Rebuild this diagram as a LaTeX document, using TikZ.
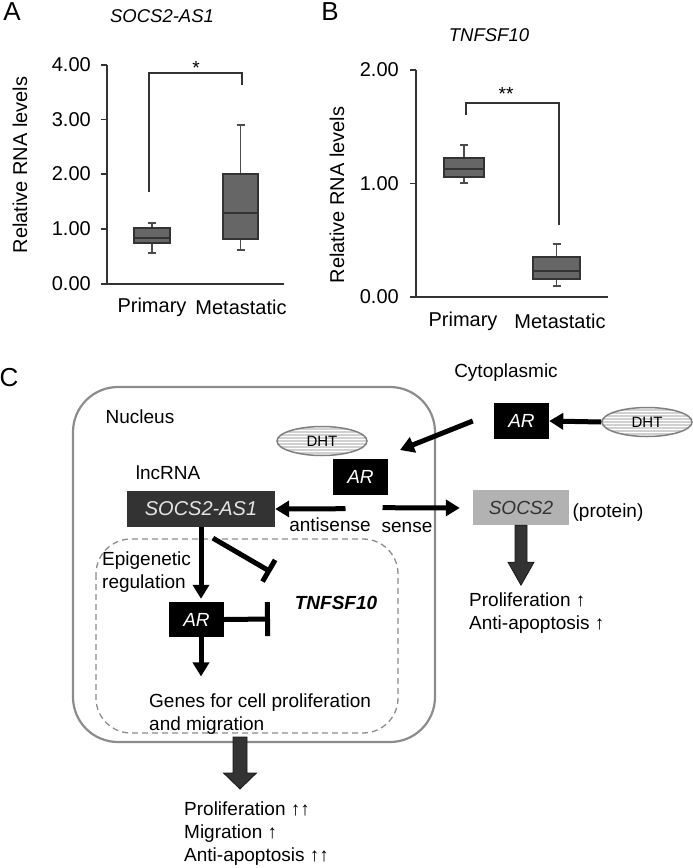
\documentclass[tikz,border=0pt]{standalone}
\usepackage{fontspec}
\setmainfont{Liberation Sans}
\usetikzlibrary{arrows.meta,shapes.geometric,positioning}

\begin{document}
\begin{tikzpicture}[x=1pt,y=-1pt,
  panel/.style={font=\fontsize{26}{30}\selectfont, inner sep=0pt},
  ttl/.style={font=\itshape\fontsize{18.5}{22}\selectfont, inner sep=0pt},
  lbl/.style={font=\fontsize{20}{22}\selectfont, inner sep=0pt},
  txt/.style={font=\fontsize{19}{23}\selectfont, inner sep=0pt, align=left},
  axis/.style={draw=black!80, line width=1.4pt},
  bx/.style={draw=black!80, fill=black!60, line width=1.8pt},
  wsk/.style={draw=black!70, line width=1.4pt},
  brk/.style={draw=black!80, line width=1.1pt},
  arbox/.style={fill=black, text=white, font=\itshape\fontsize{19}{22}\selectfont,
    minimum width=55pt, minimum height=36pt, inner sep=0pt},
  dht/.style={ellipse, draw=black!50, line width=1.5pt, minimum width=90pt, minimum height=29pt,
    inner sep=0pt, font=\fontsize{15}{18}\selectfont,
    path picture={\foreach \k in {-15,-12,...,15}
      \draw[black!18, line width=1.5pt] ([yshift=\k pt]path picture bounding box.west)
        -- ([yshift=\k pt]path picture bounding box.east);}},
  thick arrow/.style={line width=5pt, -{Triangle[length=14pt,width=16pt]}},
  inhibit/.style={line width=5pt, -{Bar[width=#1]}},
  bigarrow/.style={draw=black!90, fill=black!80, line width=0.8pt, line join=miter},
]
\useasboundingbox (0,0) rectangle (693,868);

% panel A
\node[panel] (lblA) at (12,12) {A};
\node[ttl] (ttlA) at (162,16) {SOCS2-AS1};
\draw[axis] (107,65) -- (107,284) -- (284,284);
\foreach \v/\y [count=\i] in {4.00/65,3.00/119.5,2.00/174,1.00/229,0.00/284} {
  \draw[axis] (101,\y) -- (107,\y);
  \node[lbl, anchor=east] (tA\i) at (91,\y) {\v};
}
\node[lbl, rotate=90] (ylA) at (20,165) {Relative RNA levels};
\foreach \xl/\xr/\hi/\qt/\md/\qb/\lo in {134/170/223/228/238/243/253, 223/258/125/174/213/239/250} {
  \pgfmathsetmacro\xm{(\xl+\xr)/2}
  \draw[wsk] (\xm-4,\hi) -- (\xm+4,\hi) (\xm,\hi) -- (\xm,\lo) (\xm-4,\lo) -- (\xm+4,\lo);
  \draw[bx] (\xl,\qt) rectangle (\xr,\qb);
  \draw[bx] (\xl,\md) -- (\xr,\md);
}
\draw[brk] (149,192) -- (149,73) -- (242,73) -- (242,85);
\node[lbl, font=\fontsize{19}{20}\selectfont] (sigA) at (196,68) {*};
\node[lbl] (primA) at (152,307) {Primary};
\node[lbl] (metA) at (241,307) {Metastatic};

% panel B
\node[panel] (lblB) at (330,12) {B};
\node[ttl] (ttlB) at (489,35) {TNFSF10};
\draw[axis] (416,70) -- (416,297) -- (608,297);
\foreach \v/\y [count=\i] in {2.00/70,1.00/183.5,0.00/297} {
  \draw[axis] (410,\y) -- (416,\y);
  \node[lbl, anchor=east] (tB\i) at (399,\y) {\v};
}
\node[lbl, rotate=90] (ylB) at (337,195) {Relative RNA levels};
\foreach \xl/\xr/\hi/\qt/\md/\qb/\lo in {444/484/145/158/169/177/183, 533/580/244/257/271/279/286} {
  \pgfmathsetmacro\xm{(\xl+\xr)/2}
  \draw[wsk] (\xm-4,\hi) -- (\xm+4,\hi) (\xm,\hi) -- (\xm,\lo) (\xm-4,\lo) -- (\xm+4,\lo);
  \draw[bx] (\xl,\qt) rectangle (\xr,\qb);
  \draw[bx] (\xl,\md) -- (\xr,\md);
}
\draw[brk] (466,115) -- (466,103) -- (559,103) -- (559,225);
\node[lbl, font=\fontsize{19}{20}\selectfont] (sigB) at (506,94) {**};
\node[lbl] (primB) at (463,321) {Primary};
\node[lbl] (metB) at (560,321) {Metastatic};

% panel C
\node[panel] (lblC) at (9,378) {C};
\draw[black!45, line width=2.2pt, rounded corners=45pt] (73,387) rectangle (435,742);
\draw[black!45, line width=1.3pt, dash pattern=on 6pt off 4pt, rounded corners=35pt] (96,539) rectangle (398,733);
\node[txt] (nuc) at (140,417) {Nucleus};
\node[txt] (cyto) at (506,373) {Cytoplasmic};
\node[txt] (lnc) at (168,473) {lncRNA};

\node[dht] (dhtN) at (322,441) {DHT};
\node[dht] (dhtC) at (647,422) {DHT};
\node[arbox] (arN) at (360.5,476.5) {AR};
\node[arbox] (arC) at (521.5,421) {AR};
\node[arbox, minimum height=35pt] (arL) at (196.5,619.5) {AR};
\node[fill=black!80, text=black!10, font=\itshape\fontsize{20}{22}\selectfont,
  minimum width=148pt, minimum height=36pt, inner sep=0pt] (socsAS) at (201,509) {SOCS2-AS1};
\node[fill=black!30, text=black!80, font=\itshape\fontsize{19}{22}\selectfont,
  minimum width=96pt, minimum height=35pt, inner sep=0pt] (socsP) at (521,507.5) {SOCS2};
\node[txt] (prot) at (608,513) {(protein)};
\node[txt] (anti) at (330,525) {antisense};
\node[txt] (sns) at (407,527) {sense};
\node[txt, anchor=west] (epi) at (102,572) {Epigenetic\\regulation};
\node[txt, font=\bfseries\itshape\fontsize{19}{22}\selectfont] (tnf) at (336,603) {TNFSF10};
\node[txt, anchor=west] (genes) at (149,714) {Genes for cell proliferation\\and migration};
\node[txt, anchor=west] (outP) at (469,613.5) {Proliferation ↑\\Anti-apoptosis ↑};
\node[txt, anchor=west] (outN) at (184,834) {Proliferation ↑↑\\Migration ↑\\Anti-apoptosis ↑↑};

\coordinate (nucIn) at (400,450);
\coordinate (inh1) at (271,572);
\coordinate (inh2) at (270,619);

\draw[thick arrow] (dhtC.west) -- (arC.east);
\draw[thick arrow] ([xshift=-21pt]arC.west) -- (nucIn);
\draw[thick arrow] ([shift={(-15,14)}]arN.south) -- (socsAS.east);
\draw[thick arrow, shorten >=13pt] ([shift={(22,13)}]arN.south) -- (socsP.west |- 0,508);
\draw[thick arrow, shorten >=3pt] (socsAS.south) -- (socsAS.south |- arL.north);
\draw[inhibit=25pt] ([shift={(12,11)}]socsAS.south) -- (inh1);
\draw[inhibit=34pt] (arL.east) -- (inh2);
\draw[thick arrow, shorten >=17pt] (socsAS.south |- arL.south) -- (socsAS.south |- genes.north);

\draw[bigarrow] ([xshift=-6pt]socsP.south) -- ++(0,37) -- ++(-7,0) -- ++(13,23) -- ++(13,-23)
  -- ++(-7,0) -- ++(0,-37) -- cycle;
\draw[bigarrow] (233,737) -- ++(0,36) -- ++(-9.5,0) -- ++(16.5,16) -- ++(16.5,-16)
  -- ++(-9.5,0) -- ++(0,-36) -- cycle;
\end{tikzpicture}
\end{document}
